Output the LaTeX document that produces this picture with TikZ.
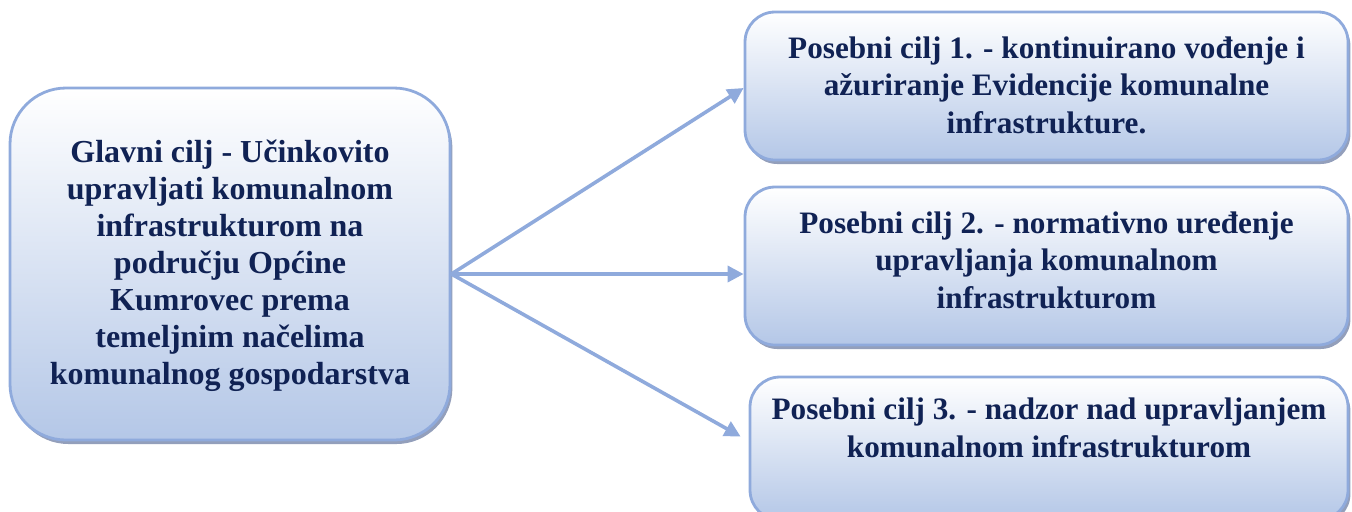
\documentclass[tikz,border=0pt]{standalone}
\usepackage{fontspec}
\setmainfont{Liberation Serif}
\usepackage{xcolor}
\usetikzlibrary{shapes,arrows.meta,positioning,calc,shadows}

\definecolor{goalline}{RGB}{143,170,220}
\definecolor{goalfill}{RGB}{180,199,231}
\definecolor{goaltext}{RGB}{16,34,84}
\definecolor{goalshadow}{RGB}{120,135,170}

\tikzset{
    goalbox/.style={draw=goalline, line width=1.4pt, top color=white, bottom color=goalfill,
        drop shadow={shadow xshift=1.2pt, shadow yshift=-2pt, fill=goalshadow, opacity=0.8}},
    goallabel/.style={text=goaltext, font=\bfseries\fontsize{15.6}{18.8}\selectfont, align=center},
    goalarrow/.style={draw=goalline, line width=1.8pt, -{Triangle[length=8pt, width=8pt]}}
}

\begin{document}
\begin{tikzpicture}[x=0.5pt, y=-0.5pt]
    \useasboundingbox (0,0) rectangle (1352,511);
    \clip (0,0) rectangle (1352,511);

    % Main goal
    \node [goalbox, rounded corners=28pt, minimum width=220pt, minimum height=176pt] (main) at (230,264) {};
    \node [goallabel, font=\bfseries\fontsize{16}{18.5}\selectfont] (mainlabel) at (230,266) {Glavni cilj - Učinkovito\\upravljati komunalnom\\infrastrukturom na\\području Općine\\Kumrovec prema\\temeljnim načelima\\komunalnog gospodarstva};
    \coordinate (hub) at ([yshift=-5pt]main.east);

    % Specific goals
    \node [goalbox, rounded corners=15pt, minimum width=301.5pt, minimum height=74pt] (goal1) at (1046.5,86) {};
    \node [goallabel] (label1) at (1046.5,85) {Posebni cilj 1. - kontinuirano vođenje i\\ažuriranje Evidencije komunalne\\infrastrukture.};

    \node [goalbox, rounded corners=15pt, minimum width=301.5pt, minimum height=79pt] (goal2) at (1046.5,266) {};
    \node [goallabel] (label2) at (1046.5,260) {Posebni cilj 2. - normativno uređenje\\upravljanja komunalnom\\infrastrukturom};

    \node [goalbox, rounded corners=15pt, minimum width=299pt, minimum height=71.5pt] (goal3) at (1049,448.5) {};
    \node [goallabel] (label3) at (1049,428) {Posebni cilj 3. - nadzor nad upravljanjem\\komunalnom infrastrukturom};

    % Arrows
    \draw [goalarrow] (hub) -- ([yshift=-1pt]goal1.west);
    \draw [goalarrow] (hub) -- (hub -| goal2.west);
    \draw [goalarrow] (hub) -- ([xshift=-4pt, yshift=6pt]goal3.west);
\end{tikzpicture}
\end{document}
